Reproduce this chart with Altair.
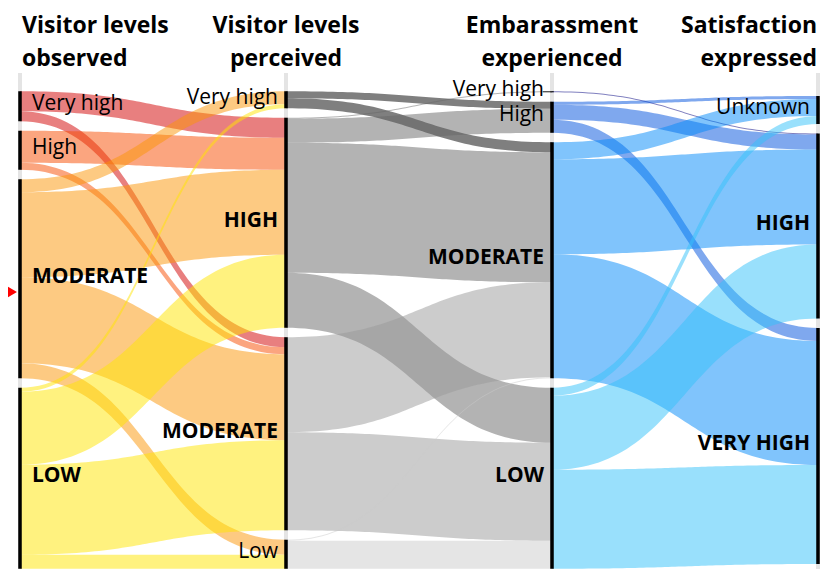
import altair as alt
import pandas as pd
import numpy as np

# ---------------- data ----------------
titles_line1 = ["Visitor levels", "Visitor levels", "Embarassment", "Satisfaction"]
titles_line2 = ["observed", "perceived", "experienced", "expressed"]

nodes = [
    ["Very high", "High", "MODERATE", "LOW"],        # visitor levels observed
    ["Very high", "HIGH", "MODERATE", "Low"],        # visitor levels perceived
    ["Very high", "High", "MODERATE", "LOW"],        # embarassment experienced
    ["Unknown", "HIGH", "VERY HIGH"],                # satisfaction expressed
]

# observed -> perceived
s1_src = ["Very high", "Very high", "High", "High", "MODERATE", "MODERATE", "MODERATE", "MODERATE",
          "LOW", "LOW", "LOW", "LOW"]
s1_tgt = ["HIGH", "MODERATE", "HIGH", "MODERATE", "Very high", "HIGH", "MODERATE", "Low",
          "Very high", "HIGH", "MODERATE", "Low"]
s1_val = [20, 10, 32, 7, 13, 85, 86, 15, 4, 73, 90, 14]

# perceived -> embarassment
s2_src = ["Very high", "Very high", "HIGH", "HIGH", "HIGH", "HIGH", "MODERATE", "MODERATE", "Low", "Low"]
s2_tgt = ["High", "MODERATE", "Very high", "High", "MODERATE", "LOW", "MODERATE", "LOW", "MODERATE", "LOW"]
s2_val = [7, 10, 1, 24, 130, 55, 95, 98, 1, 28]

# embarassment -> satisfaction
s3_src = ["Very high", "High", "High", "High", "MODERATE", "MODERATE", "MODERATE", "LOW", "LOW", "LOW"]
s3_tgt = ["HIGH", "Unknown", "HIGH", "VERY HIGH", "Unknown", "HIGH", "VERY HIGH", "Unknown", "HIGH", "VERY HIGH"]
s3_val = [1, 3, 15, 13, 17, 95, 124, 8, 74, 99]

stages = [(s1_src, s1_tgt, s1_val), (s2_src, s2_tgt, s2_val), (s3_src, s3_tgt, s3_val)]

# flow colours, by source column
stage_colors = [
    ["#d10000", "#f74b00", "#fb9505", "#ffe600"],
    ["#000000", "#676767", "#999999", "#cbcbcb"],
    ["#000080", "#0051dd", "#0189f9", "#33c1f9"],
]

pointer_y = [284]  # red pointer marker (value units)

# ---------------- layout (derived) ----------------
GAP = 9.5
CENTER = 322.0
TITLE_Y1, TITLE_Y2 = 25, 58
AXIS_TOP, AXIS_BOTTOM = 65, 561

sizes = []
for c in range(4):
    s = {}
    if c < 3:
        src, tgt, val = stages[c]
        for a, v in zip(src, val):
            s[a] = s.get(a, 0) + v
    else:
        src, tgt, val = stages[2]
        for b, v in zip(tgt, val):
            s[b] = s.get(b, 0) + v
    sizes.append([s.get(n, 0) for n in nodes[c]])

tops = []
for c in range(4):
    total = sum(sizes[c]) + GAP * (len(sizes[c]) - 1)
    t = CENTER - total / 2
    tt = []
    for v in sizes[c]:
        tt.append(t)
        t += v + GAP
    tops.append(tt)

flow_rows = []
fid = 0
tgrid = np.linspace(0, 1, 61)
xs_t = 1.5 * tgrid - 1.5 * tgrid ** 2 + tgrid ** 3
ys_t = 3 * tgrid ** 2 - 2 * tgrid ** 3
color_domain, color_range = [], []
for k, (src, tgt, val) in enumerate(stages):
    for i, n in enumerate(nodes[k]):
        color_domain.append(f"{k}:{n}")
        color_range.append(stage_colors[k][i])
    sn, tn = nodes[k], nodes[k + 1]
    idx = list(range(len(val)))
    # source offsets: sorted by target order
    s_off = {}
    cur = {n: tops[k][i] for i, n in enumerate(sn)}
    for j in sorted(idx, key=lambda j: (sn.index(src[j]), tn.index(tgt[j]))):
        s_off[j] = cur[src[j]]
        cur[src[j]] += val[j]
    # target offsets: sorted by source order
    t_off = {}
    cur = {n: tops[k + 1][i] for i, n in enumerate(tn)}
    for j in sorted(idx, key=lambda j: (tn.index(tgt[j]), sn.index(src[j]))):
        t_off[j] = cur[tgt[j]]
        cur[tgt[j]] += val[j]
    for j in idx:
        y0a, y1a = s_off[j], t_off[j]
        for xx, yy in zip(xs_t, ys_t):
            top = y0a + (y1a - y0a) * yy
            flow_rows.append({"fid": fid, "x": k + xx, "y": top, "y2": top + val[j],
                              "key": f"{k}:{src[j]}"})
        fid += 1
flows = pd.DataFrame(flow_rows)

node_rows, label_rows = [], []
for c in range(4):
    for i, n in enumerate(nodes[c]):
        node_rows.append({"x": c, "y": tops[c][i], "y2": tops[c][i] + sizes[c][i]})
        label_rows.append({"x": c, "y": tops[c][i] + sizes[c][i] / 2, "label": n,
                           "bold": n.isupper(), "left": c == 0})
nodes_df = pd.DataFrame(node_rows)
labels_df = pd.DataFrame(label_rows)
axes_df = pd.DataFrame({"x": [0, 1, 2, 3], "y": [AXIS_TOP] * 4, "y2": [AXIS_BOTTOM] * 4})
title_df = pd.DataFrame({
    "x": [0, 1, 2, 3] * 2,
    "y": [TITLE_Y1] * 4 + [TITLE_Y2] * 4,
    "t": titles_line1 + titles_line2,
    "al": ["left", "center", "center", "right"] * 2,
})
# leader line for the tiny node in column 3
lead_df = pd.DataFrame({"x": [2 - 0.034], "x2": [2], "y": [tops[2][0] + sizes[2][0] / 2]})
ptr_df = pd.DataFrame({"x": [-0.05], "y": pointer_y})

XS = alt.Scale(domain=[0, 3], nice=False, zero=False)
YS = alt.Scale(domain=[0, 561], nice=False, zero=False, reverse=True)
FONT = "Open Sans"


def X(f="x"):
    return alt.X(f"{f}:Q", scale=XS, axis=None)


def Y(f="y"):
    return alt.Y(f"{f}:Q", scale=YS, axis=None)


axis_bg = alt.Chart(axes_df).mark_rule(color="#e4e4e4", strokeWidth=4).encode(
    x=X(), y=Y(), y2="y2")

flow_layer = alt.Chart(flows).mark_area(opacity=0.5, interpolate="linear").encode(
    x=X(), y=Y(), y2="y2", detail="fid:N",
    color=alt.Color("key:N", scale=alt.Scale(domain=color_domain, range=color_range), legend=None),
    order=alt.Order("fid:Q"),
)

node_layer = alt.Chart(nodes_df).mark_rule(color="black", strokeWidth=3.5).encode(
    x=X(), y=Y(), y2="y2")

lead_layer = alt.Chart(lead_df).mark_rule(color="#333333", strokeWidth=1).encode(
    x=X(), x2="x2", y=Y())

label_layers = []
for left in [True, False]:
    for bold in [True, False]:
        label_layers.append(
            alt.Chart(labels_df).transform_filter(
                (alt.datum.left == left) & (alt.datum.bold == bold)
            ).mark_text(
                font=FONT, fontSize=21, fontWeight="bold" if bold else "normal",
                align="left" if left else "right", baseline="middle",
                dx=12 if left else -8, dy=-2, color="black",
            ).encode(x=X(), y=Y(), text="label:N")
        )

title_layers = []
for al, dx in [("left", 2), ("center", 0), ("right", -1)]:
    title_layers.append(
        alt.Chart(title_df).transform_filter(alt.datum.al == al).mark_text(
            font=FONT, fontSize=23, fontWeight="bold", align=al, baseline="alphabetic",
            dx=dx, color="black",
        ).encode(x=X(), y=Y(), text="t:N")
    )

ptr_layer = alt.Chart(ptr_df).mark_point(
    shape="triangle-right", size=560, filled=True, color="#ff0000", opacity=1
).encode(x=X(), y=Y())

chart = alt.layer(
    axis_bg, flow_layer, node_layer, lead_layer, *label_layers, *title_layers, ptr_layer
).properties(
    width=798, height=561,
    padding={"left": 12, "top": 0, "right": 5, "bottom": 0},
    autosize=alt.AutoSizeParams(type="none"),
).configure_view(stroke=None)

chart.save("out.html", embed_options={"renderer": "svg", "actions": False})
